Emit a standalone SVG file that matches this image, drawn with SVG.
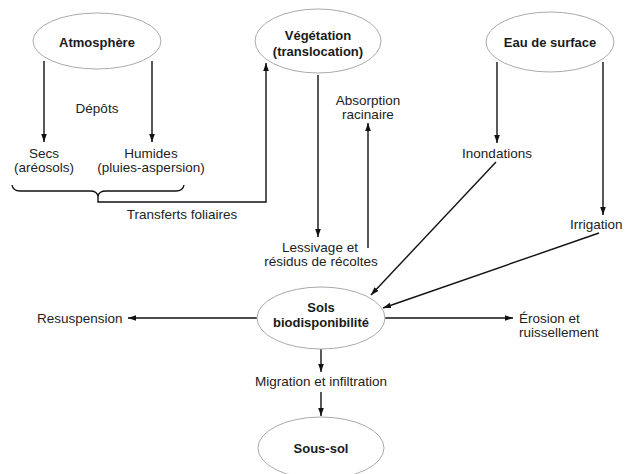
<svg xmlns="http://www.w3.org/2000/svg" width="625" height="474" viewBox="0 0 625 474">
<style>
.node ellipse{fill:#fff;stroke:#aaa;stroke-width:1}
.b{font-family:"Liberation Sans",Arial,sans-serif;font-weight:bold;font-size:13px;fill:#1a1a1a;text-anchor:middle}
.t{font-family:"Liberation Sans",Arial,sans-serif;font-size:13.5px;fill:#222;text-anchor:middle}
.s{text-anchor:start}
#connectors path,#connectors line{stroke:#111;stroke-width:1.4;fill:none}
</style>
<defs>
<marker id="ah" viewBox="0 0 10 10" refX="10" refY="5" markerWidth="8" markerHeight="8" markerUnits="userSpaceOnUse" orient="auto">
<path d="M0,1.5 L10,5 L0,8.5 Z" fill="#111"/>
</marker>
</defs>
<rect width="625" height="474" fill="#fff"/>
<g id="connectors">
<line x1="44" y1="61" x2="44" y2="142" marker-end="url(#ah)"/>
<line x1="152" y1="61" x2="152" y2="142" marker-end="url(#ah)"/>
<path d="M12,185 Q13,191 20,191 L90,191 Q97,191 98,196 Q99,191 106,191 L176,191 Q183,191 184,185"/>
<path d="M98,196 L98,202 L266,202 L266,63" marker-end="url(#ah)"/>
<line x1="318" y1="75" x2="318" y2="237" marker-end="url(#ah)"/>
<line x1="368" y1="248" x2="368" y2="123" marker-end="url(#ah)"/>
<line x1="497" y1="62" x2="497" y2="143" marker-end="url(#ah)"/>
<line x1="603" y1="62" x2="603" y2="215" marker-end="url(#ah)"/>
<line x1="496" y1="162" x2="371" y2="295" marker-end="url(#ah)"/>
<line x1="599" y1="233" x2="383" y2="308" marker-end="url(#ah)"/>
<line x1="257" y1="318" x2="128" y2="318" marker-end="url(#ah)"/>
<line x1="385" y1="318" x2="513" y2="318" marker-end="url(#ah)"/>
<line x1="321" y1="349" x2="321" y2="372" marker-end="url(#ah)"/>
<line x1="321" y1="392" x2="321" y2="416" marker-end="url(#ah)"/>
</g>
<g id="atmosphere" class="node">
<ellipse cx="97" cy="41" rx="64" ry="28"/>
<text class="b" x="97" y="47">Atmosphère</text>
</g>
<g id="vegetation" class="node">
<ellipse cx="318" cy="41" rx="63" ry="32"/>
<text class="b" x="318" y="40">Végétation</text>
<text class="b" x="318" y="56">(translocation)</text>
</g>
<g id="eau" class="node">
<ellipse cx="550" cy="42" rx="64" ry="30"/>
<text class="b" x="550" y="47">Eau de surface</text>
</g>
<g id="sols" class="node">
<ellipse cx="321" cy="318" rx="64" ry="31"/>
<text class="b" x="321" y="312">Sols</text>
<text class="b" x="321" y="327">biodisponibilité</text>
</g>
<g id="soussol" class="node">
<ellipse cx="321" cy="448" rx="63" ry="31"/>
<text class="b" x="321" y="453">Sous-sol</text>
</g>
<g id="labels">
<text class="t" x="97" y="113">Dépôts</text>
<text class="t" x="44" y="158">Secs</text>
<text class="t" x="44" y="172">(aréosols)</text>
<text class="t" x="151" y="158">Humides</text>
<text class="t" x="151" y="172">(pluies-aspersion)</text>
<text class="t" x="182" y="219">Transferts foliaires</text>
<text class="t" x="368" y="105">Absorption</text>
<text class="t" x="368" y="119">racinaire</text>
<text class="t" x="320" y="252">Lessivage et</text>
<text class="t" x="321" y="266">résidus de récoltes</text>
<text class="t" x="497" y="158">Inondations</text>
<text class="t s" x="570" y="229">Irrigation</text>
<text class="t s" x="37" y="323">Resuspension</text>
<text class="t s" x="519" y="323">Érosion et</text>
<text class="t s" x="519" y="337">ruissellement</text>
<text class="t" x="321" y="386">Migration et infiltration</text>
</g>
</svg>
